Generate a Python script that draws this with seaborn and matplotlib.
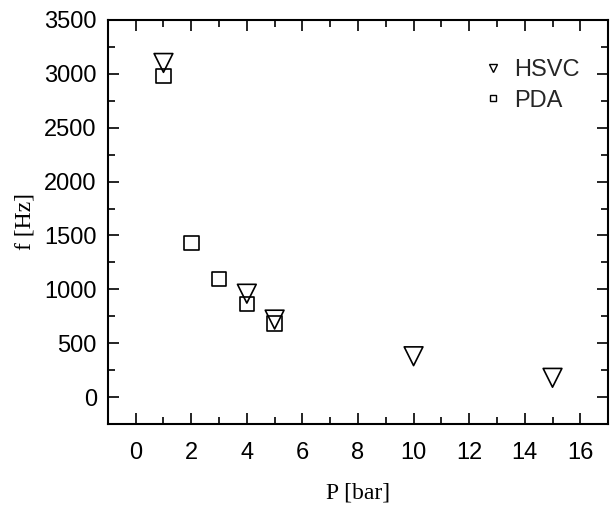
import matplotlib
matplotlib.use("Agg")
import matplotlib.pyplot as plt
from matplotlib.lines import Line2D
from matplotlib.ticker import MultipleLocator
import seaborn as sns
import pandas as pd

hsvc_p = [1, 4, 5, 10, 15]
hsvc_f = [3100, 960, 720, 380, 180]
pda_p = [1, 2, 3, 4, 5]
pda_f = [2980, 1430, 1095, 865, 685]
series_names = ["HSVC", "PDA"]

df = pd.concat([
    pd.DataFrame({"P": hsvc_p, "f": hsvc_f, "method": series_names[0]}),
    pd.DataFrame({"P": pda_p, "f": pda_f, "method": series_names[1]}),
], ignore_index=True)

sns.set_theme(style="ticks")
plt.rcParams["font.family"] = ["Liberation Sans", "DejaVu Sans"]

fig = plt.figure(figsize=(6.13, 5.08), dpi=100)
ax = fig.add_axes([0.176, 0.165, 0.816, 0.796])

markers = {"HSVC": "v", "PDA": "s"}
sizes = {"HSVC": 13.5 ** 2, "PDA": 10.5 ** 2}
for name in series_names:
    sub = df[df["method"] == name]
    sns.scatterplot(data=sub, x="P", y="f", marker=markers[name], s=sizes[name],
                    facecolor="none", edgecolor="black", linewidth=1.2,
                    ax=ax, legend=False, zorder=3)

ax.set_xlim(-1, 17)
ax.set_ylim(-250, 3500)
ax.xaxis.set_major_locator(MultipleLocator(2))
ax.xaxis.set_minor_locator(MultipleLocator(1))
ax.yaxis.set_major_locator(MultipleLocator(500))
ax.yaxis.set_minor_locator(MultipleLocator(250))
ax.tick_params(which="both", direction="in", top=True, right=True,
               color="black", labelsize=17, labelcolor="black")
ax.tick_params(which="major", length=8, width=1.2)
ax.tick_params(which="minor", length=5, width=1.2)
ax.tick_params(axis="x", which="major", pad=13)
ax.tick_params(axis="y", which="major", pad=8)
for sp in ax.spines.values():
    sp.set_linewidth(1.5)
    sp.set_color("black")

ax.set_xlabel("P [bar]", fontsize=17, family=["Liberation Serif"], labelpad=13, color="black")
ax.set_ylabel("f [Hz]", fontsize=17, family=["Liberation Serif"], labelpad=6, color="black")

handles = [
    Line2D([], [], marker="v", ls="none", mfc="none", mec="black", ms=6, mew=1),
    Line2D([], [], marker="s", ls="none", mfc="none", mec="black", ms=5, mew=1),
]
ax.legend(handles, series_names, loc="upper right", bbox_to_anchor=(0.985, 0.955),
          frameon=False, fontsize=17, handletextpad=0.4, labelspacing=0.35,
          handlelength=1.0)

fig.savefig("out.png", dpi=100)
